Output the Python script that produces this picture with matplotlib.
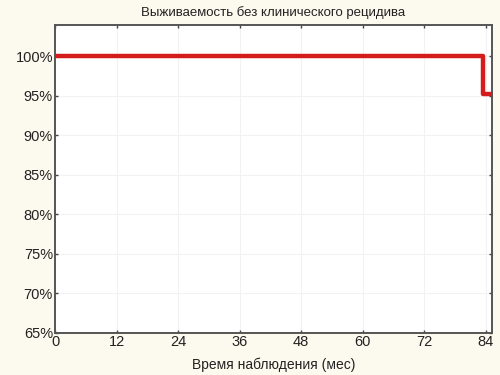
import matplotlib.pyplot as plt
import numpy as np

# survival curve (step), months vs percent
time_mo = [0, 83.4, 85.2]
survival = [100, 95.24, 95.24]

x_ticks = [0, 12, 24, 36, 48, 60, 72, 84]
y_ticks = [65, 70, 75, 80, 85, 90, 95, 100]

plt.rcParams['font.family'] = ['Liberation Sans', 'DejaVu Sans']

fig = plt.figure(figsize=(5, 3.75), dpi=100, facecolor='#fcf9ee')
ax = fig.add_axes([0.11, 0.112, 0.874, 0.822])
ax.set_facecolor('white')

ax.step(time_mo, survival, where='post', color='#d41c1c', lw=3.2, solid_capstyle='butt')

ax.set_xlim(0, 85.2)
ax.set_ylim(65, 104)
ax.set_xticks(x_ticks)
ax.set_yticks(y_ticks)
ax.set_yticklabels([f"{v}%" for v in y_ticks])
ax.grid(True, color='#f2f2f2', lw=0.8)
ax.tick_params(direction='in', length=2, width=1, colors='#444444', top=True, right=True,
               labelsize=10.5, labelcolor='#222222', pad=1.5)

for s in ax.spines.values():
    s.set_color('#555555')
    s.set_linewidth(1.4)

ax.set_title("Выживаемость без клинического рецидива", fontsize=9.5, color='#222222', pad=6)
ax.set_xlabel("Время наблюдения (мес)", fontsize=10, color='#222222', labelpad=6)

fig.savefig('out.png', dpi=100, facecolor=fig.get_facecolor())
